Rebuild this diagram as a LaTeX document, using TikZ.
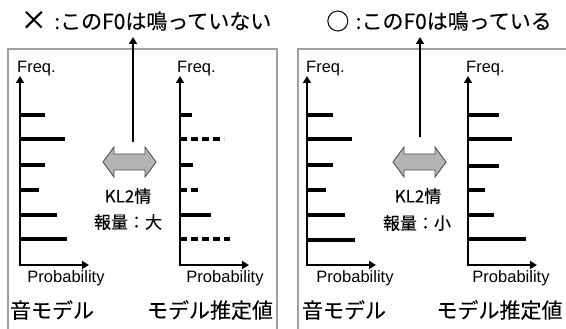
\documentclass[tikz,border=0pt]{standalone}
\usepackage{fontspec}
\setmainfont{Liberation Sans}
\newfontfamily\jpfont[FakeBold=0.15]{Noto Sans CJK JP}
\usetikzlibrary{arrows.meta}
\definecolor{panelgray}{RGB}{160,160,160}
\definecolor{arrowfill}{RGB}{180,180,180}
\definecolor{arrowline}{RGB}{80,80,80}
\begin{document}
\begin{tikzpicture}[x=1pt,y=-1pt,
  panel/.style={draw=panelgray,line width=1.4pt},
  axisline/.style={line width=2.6pt,{Triangle[length=7pt,width=8pt]}-{Triangle[length=7pt,width=8pt]}},
  upline/.style={line width=2.8pt,-{Triangle[length=7pt,width=8pt]}},
  barline/.style={line width=3.2pt},
  dashbar/.style={barline,dash pattern=on 7pt off 4pt},
  lbl/.style={font=\fontsize{16.5}{18}\selectfont,inner sep=0pt},
  jbig/.style={font=\jpfont\fontsize{21}{23}\selectfont,inner sep=0pt},
  jmid/.style={font=\jpfont\fontsize{17}{19}\selectfont,inner sep=0pt},
  darrow/.style={draw=arrowline,fill=arrowfill,line width=0.9pt,line join=miter}
]
\useasboundingbox (0,0) rectangle (566,329);
% panels
\draw[panel] (8,329) -- (8,49) -- (277,49) -- (277,329);
\draw[panel] (298,329) -- (298,49) -- (566,49);

% titles
\node[jbig] (t1) at (146,21) {\raisebox{-0.5pt}{\scalebox{1.25}{×}}\hspace{0.35em}:このF0は鳴っていない};
\node[jbig] (t2) at (439,21) {\raisebox{-0.8pt}{\scalebox{1.1}{○}}\hspace{0.3em}:このF0は鳴っている};

% charts: axes
\foreach \n/\ax/\xe in {A/20/89,B/180/249,C/307/376,D/468/537}{
  \coordinate (\n top) at (\ax,76);
  \coordinate (\n o) at (\ax,265);
  \coordinate (\n end) at (\xe,265);
  \draw[axisline] (\n top) -- (\n o) -- (\n end);
}
\node[lbl,anchor=west] (fA) at (17,69) {Freq.};
\node[lbl,anchor=west] (fB) at (177,69) {Freq.};
\node[lbl,anchor=west] (fC) at (306,69) {Freq.};
\node[lbl,anchor=west] (fD) at (466,69) {Freq.};
\node[lbl] (pA) at (66,278) {Probability};
\node[lbl] (pB) at (225,278) {Probability};
\node[lbl] (pC) at (355,278) {Probability};
\node[lbl] (pD) at (511,278) {Probability};

% bars
\foreach \y/\x in {115/45,139/65,165/45,190/39,215/57,239/67}
  \draw[barline] (20,\y) -- (\x,\y);
\foreach \y/\x in {115/192,165/193,215/211}
  \draw[barline] (180,\y) -- (\x,\y);
\foreach \y/\x in {139/224,190/199,239/230}
  \draw[dashbar] (180,\y) -- (\x,\y);
\foreach \y/\x in {115/333,139/352,165/333,190/326,215/345,240/355}
  \draw[barline] (307,\y) -- (\x,\y);
\foreach \y/\x in {115/499,139/512,166/499,190/485,215/494,239/526}
  \draw[barline] (468,\y) -- (\x,\y);

% double arrows
\foreach \n/\c in {da1/129.5,da2/419.5}{
  \coordinate (\n) at (\c,162);
  \draw[darrow] ([xshift=-26.5pt]\n) -- ([xshift=-15.5pt,yshift=-15pt]\n)
    -- ([xshift=-15.5pt,yshift=-8pt]\n) -- ([xshift=15.5pt,yshift=-8pt]\n)
    -- ([xshift=15.5pt,yshift=-15pt]\n) -- ([xshift=26.5pt]\n)
    -- ([xshift=15.5pt,yshift=15pt]\n) -- ([xshift=15.5pt,yshift=8pt]\n)
    -- ([xshift=-15.5pt,yshift=8pt]\n) -- ([xshift=-15.5pt,yshift=15pt]\n) -- cycle;
}
\node[jmid] (k1) at (128,196) {KL2情};
\node[jmid] (r1) at (128,222) {報量：大};
\node[jmid] (k2) at (418,196) {KL2情};
\node[jmid] (r2) at (417,223) {報量：小};

% up arrows
\coordinate (u1s) at (133,142);
\coordinate (u1e) at (133,37);
\coordinate (u2s) at (420,137);
\coordinate (u2e) at (420,37);
\draw[upline] (u1s) -- (u1e);
\draw[upline] (u2s) -- (u2e);

% model labels
\node[jbig] (m1) at (52,310) {音モデル};
\node[jbig] (e1) at (210,310) {モデル推定値};
\node[jbig] (m2) at (344,310) {音モデル};
\node[jbig] (e2) at (499.5,310) {モデル推定値};
\end{tikzpicture}
\end{document}
